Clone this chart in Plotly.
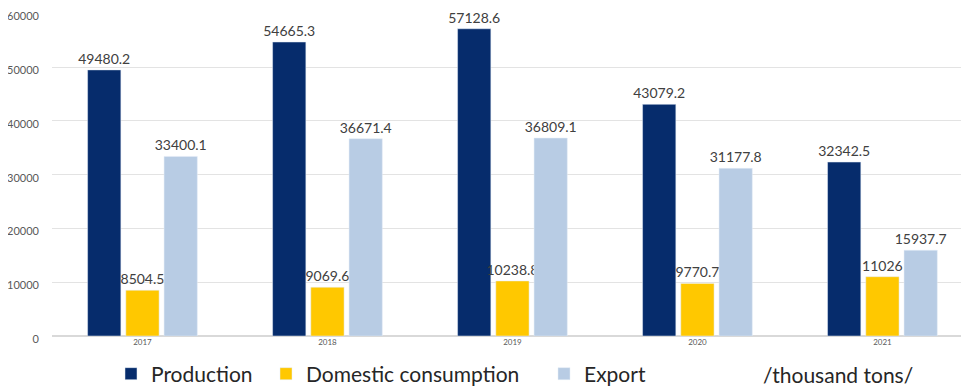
import plotly.graph_objects as go

years = ["2017", "2018", "2019", "2020", "2021"]
production = [49480.2, 54665.3, 57128.6, 43079.2, 32342.5]
domestic = [8504.5, 9069.6, 10238.8, 9770.7, 11026]
export = [33400.1, 36671.4, 36809.1, 31177.8, 15937.7]
y_ticks = [0, 10000, 20000, 30000, 40000, 50000, 60000]

FONT = "Lato, 'Open Sans', sans-serif"
OFF = 8  # page body margin
W, H = 969 - OFF, 388 - OFF
L, T, B = 52 - OFF, 13 - OFF, 52
PW, PH = W - L, H - T - B
LEG_Y = (336 - 374) / PH

def px_x(x):
    return (x - OFF - L) / PW

fig = go.Figure()
series = [
    ("Production", production, "#062C6C", "legend", 111),
    ("Domestic consumption", domestic, "#FFC800", "legend2", 266),
    ("Export", export, "#B8CCE4", "legend3", 544),
]
legends = {}
for name, vals, col, lg, lx in series:
    fig.add_trace(go.Bar(
        x=years, y=vals, name=name, marker_color=col,
        text=[str(v) for v in vals], textposition="outside", constraintext="none",
        textfont=dict(size=14, color="#404040", family=FONT),
        cliponaxis=False, legend=lg,
    ))
    legends[lg] = dict(orientation="h", x=px_x(lx), xanchor="left",
                       y=LEG_Y, yanchor="middle",
                       font=dict(size=21, color="#262626", family=FONT),
                       bgcolor="rgba(0,0,0,0)")

fig.update_layout(
    width=W, height=H,
    margin=dict(l=L, r=0, t=T, b=B, autoexpand=False),
    plot_bgcolor="white", paper_bgcolor="white",
    barmode="group", bargap=0.38, bargroupgap=0.13,
    font=dict(family=FONT, color="#595959"),
    showlegend=True,
    annotations=[dict(text="/thousand tons/", xref="paper", yref="paper",
                      x=px_x(761), xanchor="left", y=LEG_Y, yanchor="middle",
                      showarrow=False, font=dict(size=21, color="#262626", family=FONT))],
    **legends,
)
fig.update_xaxes(range=[-0.489, 4.468], showgrid=False, showline=False, ticks="",
                 tickfont=dict(size=8, color="#595959"), automargin=False)
fig.update_yaxes(range=[0, 60060], tickvals=y_ticks, ticktext=[str(t) for t in y_ticks],
                 showgrid=True, gridcolor="#E3E3E3", zeroline=True, zerolinecolor="#D9D9D9",
                 tickfont=dict(size=11, color="#595959"), ticks="", ticklabelstandoff=12,
                 ticklabelshift=3, ticklabeloverflow="allow", automargin=False)

fig.write_html("out.html")
